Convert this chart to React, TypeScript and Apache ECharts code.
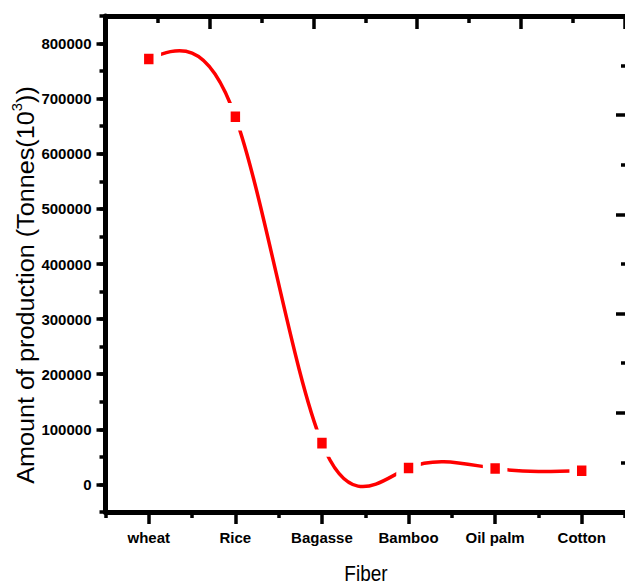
import React, { useEffect, useRef } from "react";
import * as echarts from "echarts";

const categories = ["wheat", "Rice", "Bagasse", "Bamboo", "Oil palm", "Cotton"];
const production = [772000, 667000, 75000, 30000, 29000, 25000];
const yMajorTicks = [0, 100000, 200000, 300000, 400000, 500000, 600000, 700000, 800000];
const yTitle = "Amount of production (Tonnes(10";
const yTitleSup = "3";
const xTitle = "Fiber";

const FONT = 'Arial, "Liberation Sans", sans-serif';

// second derivatives of a natural cubic spline through the values (unit spacing)
function splineSecondDerivs(y: number[]): number[] {
  const n = y.length;
  const M = new Array(n).fill(0);
  if (n < 3) return M;
  const c: number[] = new Array(n).fill(0);
  const d: number[] = new Array(n).fill(0);
  for (let i = 1; i < n - 1; i++) {
    const rhs = 6 * (y[i + 1] - 2 * y[i] + y[i - 1]);
    const denom = 4 - (i > 1 ? c[i - 1] : 0);
    c[i] = 1 / denom;
    d[i] = (rhs - (i > 1 ? d[i - 1] : 0)) / denom;
  }
  for (let i = n - 2; i >= 1; i--) {
    M[i] = d[i] - (i < n - 2 ? c[i] * M[i + 1] : 0);
  }
  return M;
}

export default function App() {
  const ref = useRef<HTMLDivElement>(null);
  useEffect(() => {
    if (!ref.current) return;
    const chart = echarts.init(ref.current, null, { renderer: "svg" });
    const M = splineSecondDerivs(production);
    const tick = { color: "#000", width: 3.5 };
    const yMin = -50000;
    const yMax = 850000;
    const gTop = 16;
    const gHeight = 496;
    const pxPerUnit = gHeight / (yMax - yMin);
    const majorTop = gTop + (yMax - yMajorTicks[yMajorTicks.length - 1]) * pxPerUnit;
    const majorHeight = (yMajorTicks[yMajorTicks.length - 1] - yMajorTicks[0]) * pxPerUnit;
    chart.setOption({
      animation: false,
      backgroundColor: "#ffffff",
      grid: [
        { left: 105.5, top: gTop, width: 521, height: gHeight, containLabel: false },
        { left: 105.5, top: majorTop, width: 521, height: majorHeight, containLabel: false },
      ],
      xAxis: [
        {
          type: "category",
          gridIndex: 0,
          data: categories,
          position: "bottom",
          boundaryGap: true,
          axisLine: { show: true, onZero: false, lineStyle: { color: "#000", width: 5 } },
          axisTick: { show: true, alignWithLabel: true, inside: false, length: 12, lineStyle: tick },
          axisLabel: { show: true, margin: 18, color: "#000", fontSize: 15, fontWeight: "bold", fontFamily: FONT },
          splitLine: { show: false },
        },
        {
          type: "value",
          gridIndex: 0,
          position: "bottom",
          min: 0,
          max: 6,
          interval: 1,
          axisLine: { show: false, onZero: false },
          axisTick: { show: true, inside: false, length: 6, lineStyle: tick },
          axisLabel: { show: false },
          splitLine: { show: false },
        },
        {
          type: "value",
          gridIndex: 0,
          position: "top",
          min: 0,
          max: 5,
          interval: 1,
          axisLine: { show: true, onZero: false, lineStyle: { color: "#000", width: 5 } },
          axisTick: { show: true, inside: true, length: 13, lineStyle: tick },
          minorTick: { show: true, splitNumber: 2, length: 7, lineStyle: tick },
          axisLabel: { show: false },
          splitLine: { show: false },
          minorSplitLine: { show: false },
        },
        {
          type: "value",
          gridIndex: 1,
          show: false,
          min: 0,
          max: 1,
        },
      ],
      yAxis: [
        {
          type: "value",
          gridIndex: 0,
          position: "left",
          min: yMin,
          max: yMax,
          interval: 50000,
          axisLine: { show: true, onZero: false, lineStyle: { color: "#000", width: 5 } },
          axisTick: { show: true, inside: false, length: 6, lineStyle: tick },
          axisLabel: {
            show: true,
            margin: 14,
            color: "#000",
            fontSize: 15,
            fontWeight: "bold",
            fontFamily: FONT,
            formatter: (v: number) => (yMajorTicks.indexOf(v) >= 0 ? String(v) : ""),
          },
          splitLine: { show: false },
        },
        {
          type: "value",
          gridIndex: 0,
          position: "right",
          min: 0,
          max: 5,
          interval: 1,
          axisLine: { show: false, onZero: false },
          axisTick: { show: true, inside: true, length: 9, lineStyle: tick },
          minorTick: { show: true, splitNumber: 2, length: 4, lineStyle: tick },
          axisLabel: { show: false },
          splitLine: { show: false },
          minorSplitLine: { show: false },
        },
        {
          type: "value",
          gridIndex: 1,
          position: "left",
          min: yMajorTicks[0],
          max: yMajorTicks[yMajorTicks.length - 1],
          interval: 100000,
          axisLine: { show: false, onZero: false },
          axisTick: { show: true, inside: false, length: 9, lineStyle: tick },
          axisLabel: { show: false },
          splitLine: { show: false },
        },
      ],
      series: [
        {
          type: "custom",
          xAxisIndex: 0,
          yAxisIndex: 0,
          data: production.map((v, i) => [i, v]),
          z: 2,
          silent: true,
          renderItem: (params: any, api: any) => {
            const i = params.dataIndex;
            if (i >= production.length - 1) return null;
            const y0 = production[i];
            const y1 = production[i + 1];
            const m0 = y1 - y0 - (2 * M[i] + M[i + 1]) / 6;
            const m1 = y1 - y0 + (M[i] + 2 * M[i + 1]) / 6;
            const p0 = api.coord([i, y0]);
            const p1 = api.coord([i + 1, y1]);
            const c1 = api.coord([i, y0 + m0 / 3]);
            const c2 = api.coord([i + 1, y1 - m1 / 3]);
            return {
              type: "bezierCurve",
              shape: {
                x1: p0[0],
                y1: p0[1],
                x2: p1[0],
                y2: p1[1],
                cpx1: p0[0] + (p1[0] - p0[0]) / 3,
                cpy1: c1[1],
                cpx2: p0[0] + (2 * (p1[0] - p0[0])) / 3,
                cpy2: c2[1],
              },
              style: { stroke: "#ff0000", lineWidth: 3.5, fill: null },
            };
          },
        },
        {
          type: "scatter",
          xAxisIndex: 0,
          yAxisIndex: 0,
          data: production,
          symbol: "rect",
          symbolSize: [17, 19],
          itemStyle: { color: "#ff0000", borderColor: "#ffffff", borderWidth: 8, opacity: 1 },
          z: 3,
        },
      ],
      graphic: [
        {
          type: "text",
          x: 24,
          y: 285,
          rotation: Math.PI / 2,
          scaleX: 1.05,
          style: {
            text: "{n|" + yTitle + "}{s|" + yTitleSup + "}{n|))}",
            align: "center",
            verticalAlign: "middle",
            fill: "#000",
            rich: {
              n: { fontSize: 24, fontFamily: FONT, fill: "#000", lineHeight: 28, verticalAlign: "bottom" },
              s: { fontSize: 14, fontFamily: FONT, fill: "#000", lineHeight: 28, verticalAlign: "top" },
            },
          },
        },
        {
          type: "text",
          x: 366,
          y: 573,
          scaleY: 1.2,
          style: {
            text: xTitle,
            align: "center",
            verticalAlign: "middle",
            fill: "#000",
            fontSize: 19,
            fontFamily: FONT,
          },
        },
      ],
    });
    return () => chart.dispose();
  }, []);
  return <div ref={ref} style={{ position: "absolute", left: 0, top: 0, width: 625, height: 586 }} />;
}
